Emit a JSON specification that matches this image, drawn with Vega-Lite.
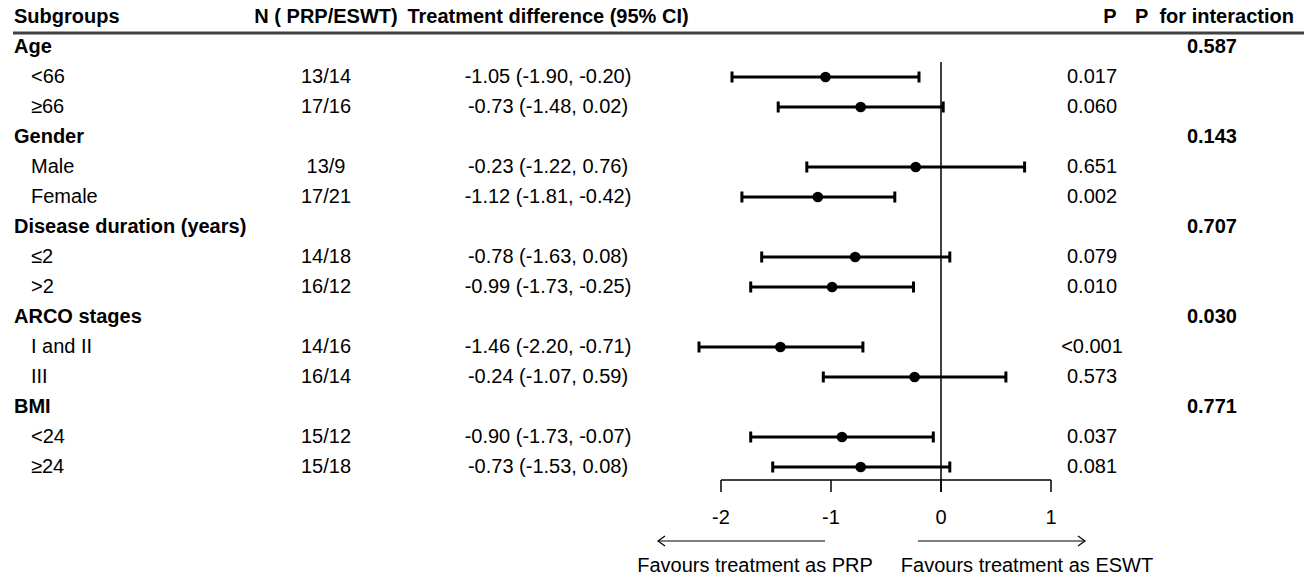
{
  "$schema": "https://vega.github.io/schema/vega-lite/v6.json",
  "width": 1304,
  "height": 582,
  "autosize": {"type": "none"},
  "padding": 0,
  "background": "white",
  "config": {
    "view": {"stroke": null},
    "axis": {"disable": true},
    "text": {"font": "Liberation Sans", "fontSize": 20, "color": "#000000", "baseline": "middle"}
  },
  "datasets": {
    "rows": [
      {"row": 0, "level": "header", "label": "Subgroups", "n": "N ( PRP/ESWT)", "ci": "Treatment difference (95% CI)", "p": "P", "pint": "P\u00a0 for interaction"},
      {"row": 1, "level": "group", "label": "Age", "pint": "0.587"},
      {"row": 2, "level": "sub", "label": "<66", "n": "13/14", "ci": "-1.05 (-1.90, -0.20)", "est": -1.05, "lo": -1.90, "hi": -0.20, "p": "0.017"},
      {"row": 3, "level": "sub", "label": "≥66", "n": "17/16", "ci": "-0.73 (-1.48, 0.02)", "est": -0.73, "lo": -1.48, "hi": 0.02, "p": "0.060"},
      {"row": 4, "level": "group", "label": "Gender", "pint": "0.143"},
      {"row": 5, "level": "sub", "label": "Male", "n": "13/9", "ci": "-0.23 (-1.22, 0.76)", "est": -0.23, "lo": -1.22, "hi": 0.76, "p": "0.651"},
      {"row": 6, "level": "sub", "label": "Female", "n": "17/21", "ci": "-1.12 (-1.81, -0.42)", "est": -1.12, "lo": -1.81, "hi": -0.42, "p": "0.002"},
      {"row": 7, "level": "group", "label": "Disease duration (years)", "pint": "0.707"},
      {"row": 8, "level": "sub", "label": "≤2", "n": "14/18", "ci": "-0.78 (-1.63, 0.08)", "est": -0.78, "lo": -1.63, "hi": 0.08, "p": "0.079"},
      {"row": 9, "level": "sub", "label": ">2", "n": "16/12", "ci": "-0.99 (-1.73, -0.25)", "est": -0.99, "lo": -1.73, "hi": -0.25, "p": "0.010"},
      {"row": 10, "level": "group", "label": "ARCO stages", "pint": "0.030"},
      {"row": 11, "level": "sub", "label": "I and II", "n": "14/16", "ci": "-1.46 (-2.20, -0.71)", "est": -1.46, "lo": -2.20, "hi": -0.71, "p": "<0.001"},
      {"row": 12, "level": "sub", "label": "III", "n": "16/14", "ci": "-0.24 (-1.07, 0.59)", "est": -0.24, "lo": -1.07, "hi": 0.59, "p": "0.573"},
      {"row": 13, "level": "group", "label": "BMI", "pint": "0.771"},
      {"row": 14, "level": "sub", "label": "<24", "n": "15/12", "ci": "-0.90 (-1.73, -0.07)", "est": -0.90, "lo": -1.73, "hi": -0.07, "p": "0.037"},
      {"row": 15, "level": "sub", "label": "≥24", "n": "15/18", "ci": "-0.73 (-1.53, 0.08)", "est": -0.73, "lo": -1.53, "hi": 0.08, "p": "0.081"}
    ],
    "ticks": [
      {"v": -2, "label": "-2"},
      {"v": -1, "label": "-1"},
      {"v": 0, "label": "0"},
      {"v": 1, "label": "1"}
    ],
    "one": [{}]
  },
  "data": {"name": "rows"},
  "layer": [
    {
      "data": {"name": "one"},
      "mark": {"type": "rule", "color": "#404040", "strokeWidth": 3},
      "encoding": {
        "x": {"datum": -8.4364, "type": "quantitative", "scale": {"domain": [-8.55455, 3.3], "nice": false, "zero": false}},
        "x2": {"datum": 3.3},
        "y": {"datum": 0.5333, "type": "quantitative", "scale": {"domain": [-0.56667, 18.83333], "nice": false, "zero": false, "reverse": true}}
      }
    },
    {
      "data": {"name": "one"},
      "mark": {"type": "rule", "color": "#000000", "strokeWidth": 1.5},
      "encoding": {
        "x": {"datum": 0, "type": "quantitative"},
        "y": {"datum": 1.5, "type": "quantitative"},
        "y2": {"datum": 15.833}
      }
    },
    {
      "data": {"name": "one"},
      "mark": {"type": "rule", "color": "#000000", "strokeWidth": 1.5},
      "encoding": {
        "x": {"datum": -2, "type": "quantitative"},
        "x2": {"datum": 1},
        "y": {"datum": 15.433, "type": "quantitative"}
      }
    },
    {
      "data": {"name": "ticks"},
      "mark": {"type": "rule", "color": "#000000", "strokeWidth": 1.5},
      "encoding": {
        "x": {"field": "v", "type": "quantitative"},
        "y": {"datum": 15.433, "type": "quantitative"},
        "y2": {"datum": 15.833}
      }
    },
    {
      "data": {"name": "ticks"},
      "mark": {"type": "text", "align": "center"},
      "encoding": {
        "x": {"field": "v", "type": "quantitative"},
        "y": {"datum": 16.7, "type": "quantitative"},
        "text": {"field": "label"}
      }
    },
    {
      "data": {"name": "one"},
      "mark": {"type": "rule", "color": "#000000", "strokeWidth": 1.2},
      "encoding": {
        "x": {"datum": -2.5727, "type": "quantitative"},
        "x2": {"datum": -1.0545},
        "y": {"datum": 17.467, "type": "quantitative"}
      }
    },
    {
      "data": {"name": "one"},
      "mark": {"type": "rule", "color": "#000000", "strokeWidth": 1.2},
      "encoding": {
        "x": {"datum": -0.2091, "type": "quantitative"},
        "x2": {"datum": 1.3091},
        "y": {"datum": 17.467, "type": "quantitative"}
      }
    },
    {
      "data": {"name": "one"},
      "mark": {"type": "point", "shape": "M 1.4 -1 L 0 0 L 1.4 1", "size": 100, "filled": false, "color": "#000000", "strokeWidth": 1.2, "opacity": 1},
      "encoding": {
        "x": {"datum": -2.5727, "type": "quantitative"},
        "y": {"datum": 17.467, "type": "quantitative"}
      }
    },
    {
      "data": {"name": "one"},
      "mark": {"type": "point", "shape": "M -1.4 -1 L 0 0 L -1.4 1", "size": 100, "filled": false, "color": "#000000", "strokeWidth": 1.2, "opacity": 1},
      "encoding": {
        "x": {"datum": 1.3091, "type": "quantitative"},
        "y": {"datum": 17.467, "type": "quantitative"}
      }
    },
    {
      "data": {"name": "one"},
      "mark": {"type": "text", "align": "center"},
      "encoding": {
        "x": {"datum": -1.6909, "type": "quantitative"},
        "y": {"datum": 18.3, "type": "quantitative"},
        "text": {"value": "Favours treatment as PRP"}
      }
    },
    {
      "data": {"name": "one"},
      "mark": {"type": "text", "align": "center"},
      "encoding": {
        "x": {"datum": 0.7818, "type": "quantitative"},
        "y": {"datum": 18.3, "type": "quantitative"},
        "text": {"value": "Favours treatment as ESWT"}
      }
    },
    {
      "transform": [{"filter": "datum.level == 'sub'"}],
      "mark": {"type": "rule", "color": "#000000", "strokeWidth": 3},
      "encoding": {
        "x": {"field": "lo", "type": "quantitative"},
        "x2": {"field": "hi"},
        "y": {"field": "row", "type": "quantitative"}
      }
    },
    {
      "transform": [{"filter": "datum.level == 'sub'"}],
      "mark": {"type": "tick", "orient": "vertical", "color": "#000000", "thickness": 3, "size": 11, "opacity": 1},
      "encoding": {
        "x": {"field": "lo", "type": "quantitative"},
        "y": {"field": "row", "type": "quantitative"}
      }
    },
    {
      "transform": [{"filter": "datum.level == 'sub'"}],
      "mark": {"type": "tick", "orient": "vertical", "color": "#000000", "thickness": 3, "size": 11, "opacity": 1},
      "encoding": {
        "x": {"field": "hi", "type": "quantitative"},
        "y": {"field": "row", "type": "quantitative"}
      }
    },
    {
      "transform": [{"filter": "datum.level == 'sub'"}],
      "mark": {"type": "point", "filled": true, "color": "#000000", "size": 115, "opacity": 1},
      "encoding": {
        "x": {"field": "est", "type": "quantitative"},
        "y": {"field": "row", "type": "quantitative"}
      }
    },
    {
      "transform": [{"filter": "datum.level != 'sub'"}],
      "mark": {"type": "text", "align": "left", "fontWeight": "bold"},
      "encoding": {
        "x": {"datum": -8.4273, "type": "quantitative"},
        "y": {"field": "row", "type": "quantitative"},
        "text": {"field": "label"}
      }
    },
    {
      "transform": [{"filter": "datum.level == 'sub'"}],
      "mark": {"type": "text", "align": "left"},
      "encoding": {
        "x": {"datum": -8.2727, "type": "quantitative"},
        "y": {"field": "row", "type": "quantitative"},
        "text": {"field": "label"}
      }
    },
    {
      "transform": [{"filter": "datum.level == 'header'"}],
      "mark": {"type": "text", "align": "center", "fontWeight": "bold"},
      "encoding": {
        "x": {"datum": -5.5909, "type": "quantitative"},
        "y": {"field": "row", "type": "quantitative"},
        "text": {"field": "n"}
      }
    },
    {
      "transform": [{"filter": "datum.level == 'sub'"}],
      "mark": {"type": "text", "align": "center"},
      "encoding": {
        "x": {"datum": -5.5909, "type": "quantitative"},
        "y": {"field": "row", "type": "quantitative"},
        "text": {"field": "n"}
      }
    },
    {
      "transform": [{"filter": "datum.level == 'header'"}],
      "mark": {"type": "text", "align": "center", "fontWeight": "bold"},
      "encoding": {
        "x": {"datum": -3.5727, "type": "quantitative"},
        "y": {"field": "row", "type": "quantitative"},
        "text": {"field": "ci"}
      }
    },
    {
      "transform": [{"filter": "datum.level == 'sub'"}],
      "mark": {"type": "text", "align": "center"},
      "encoding": {
        "x": {"datum": -3.5727, "type": "quantitative"},
        "y": {"field": "row", "type": "quantitative"},
        "text": {"field": "ci"}
      }
    },
    {
      "transform": [{"filter": "datum.level == 'header'"}],
      "mark": {"type": "text", "align": "center", "fontWeight": "bold"},
      "encoding": {
        "x": {"datum": 1.5364, "type": "quantitative"},
        "y": {"field": "row", "type": "quantitative"},
        "text": {"field": "p"}
      }
    },
    {
      "transform": [{"filter": "datum.level == 'sub'"}],
      "mark": {"type": "text", "align": "center"},
      "encoding": {
        "x": {"datum": 1.3727, "type": "quantitative"},
        "y": {"field": "row", "type": "quantitative"},
        "text": {"field": "p"}
      }
    },
    {
      "transform": [{"filter": "datum.level == 'header'"}],
      "mark": {"type": "text", "align": "left", "fontWeight": "bold"},
      "encoding": {
        "x": {"datum": 1.7636, "type": "quantitative"},
        "y": {"field": "row", "type": "quantitative"},
        "text": {"field": "pint"}
      }
    },
    {
      "transform": [{"filter": "datum.level == 'group'"}],
      "mark": {"type": "text", "align": "right", "fontWeight": "bold"},
      "encoding": {
        "x": {"datum": 2.6909, "type": "quantitative"},
        "y": {"field": "row", "type": "quantitative"},
        "text": {"field": "pint"}
      }
    }
  ]
}
